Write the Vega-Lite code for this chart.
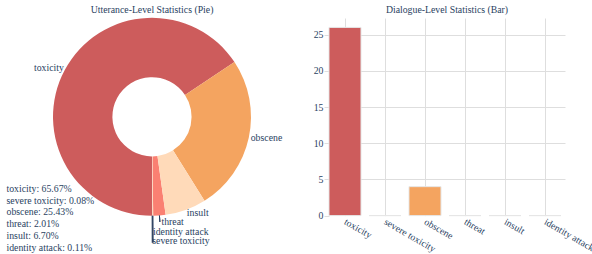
{
  "$schema": "https://vega.github.io/schema/vega-lite/v6.json",
  "padding": {"left": 0, "top": 4, "right": 0, "bottom": 0},
  "datasets": {
    "utter": [
      {"category": "toxicity", "pct": 65.67},
      {"category": "severe toxicity", "pct": 0.08},
      {"category": "obscene", "pct": 25.43},
      {"category": "threat", "pct": 2.01},
      {"category": "insult", "pct": 6.70},
      {"category": "identity attack", "pct": 0.11}
    ],
    "dialog": [
      {"category": "toxicity", "count": 26},
      {"category": "severe toxicity", "count": 0},
      {"category": "obscene", "count": 4},
      {"category": "threat", "count": 0},
      {"category": "insult", "count": 0},
      {"category": "identity attack", "count": 0}
    ]
  },
  "spacing": 9,
  "resolve": {"scale": {"color": "independent"}, "legend": {"color": "independent"}},
  "hconcat": [
    {
      "width": 304,
      "height": 197.6,
      "title": {"text": "Utterance-Level Statistics (Pie)"},
      "data": {"name": "utter"},
      "transform": [
        {"calculate": "datum.category + ': ' + format(datum.pct, '.2f') + '%'", "as": "label"},
        {"stack": "pct", "groupby": [], "sort": [{"field": "pct", "order": "descending"}], "as": ["s0", "s1"]}
      ],
      "layer": [
        {
          "mark": {"type": "arc", "radius": 99, "radius2": 39.6},
          "encoding": {
            "theta": {"field": "s0", "type": "quantitative", "scale": {"domain": [0, 100], "range": [3.14159265, 9.42477796]}},
            "theta2": {"field": "s1"},
            "color": {
              "field": "label", "type": "nominal", "sort": null,
              "scale": {"range": ["#CD5C5C", "#E9967A", "#F4A460", "#FA8072", "#FFDAB9", "#FFE4C4"]},
              "legend": {
                "title": null, "orient": "none", "legendX": 6.7, "legendY": 166,
                "padding": 0, "symbolSize": 0, "symbolStrokeWidth": 0, "symbolOpacity": 0,
                "labelOffset": -10, "labelFontSize": 9.8, "labelColor": "#2a3f5f", "labelFont": "Liberation Serif",
                "labelLimit": 0, "rowPadding": 0.8
              }
            }
          }
        },
        {
          "transform": [{"filter": "datum.category == 'threat'"}],
          "mark": {"type": "arc", "radius": 105.5, "radius2": 99, "padAngle": 1, "fillOpacity": 0, "stroke": "#2a3f5f", "strokeWidth": 1},
          "encoding": {
            "theta": {"field": "s0", "type": "quantitative"},
            "theta2": {"field": "s1"}
          }
        },
        {
          "transform": [{"filter": "datum.category == 'identity attack' || datum.category == 'severe toxicity'"}],
          "mark": {"type": "arc", "radius": 126, "radius2": 99, "padAngle": 1, "fillOpacity": 0, "stroke": "#2a3f5f", "strokeWidth": 1.2},
          "encoding": {
            "theta": {"field": "s0", "type": "quantitative"},
            "theta2": {"field": "s1"}
          }
        },
        {
          "mark": {"type": "text", "radius": 100, "dy": -1.5, "align": "right", "baseline": "middle", "fontSize": 9.8, "color": "#2a3f5f"},
          "encoding": {
            "theta": {"field": "pct", "type": "quantitative", "stack": true},
            "order": {"field": "pct", "sort": "descending"},
            "detail": {"field": "category"},
            "text": {"condition": {"test": "datum.category == 'toxicity'", "field": "category"}, "value": ""}
          }
        },
        {
          "mark": {"type": "text", "radius": 101, "align": "left", "baseline": "middle", "fontSize": 9.8, "color": "#2a3f5f"},
          "encoding": {
            "theta": {"field": "pct", "type": "quantitative", "stack": true},
            "order": {"field": "pct", "sort": "descending"},
            "detail": {"field": "category"},
            "text": {"condition": {"test": "datum.category == 'obscene'", "field": "category"}, "value": ""}
          }
        },
        {
          "mark": {"type": "text", "radius": 102, "align": "left", "baseline": "middle", "fontSize": 9.8, "color": "#2a3f5f"},
          "encoding": {
            "theta": {"field": "pct", "type": "quantitative", "stack": true},
            "order": {"field": "pct", "sort": "descending"},
            "detail": {"field": "category"},
            "text": {"condition": {"test": "datum.category == 'insult'", "field": "category"}, "value": ""}
          }
        },
        {
          "mark": {"type": "text", "radius": 105.6, "dx": 1.5, "align": "left", "baseline": "middle", "fontSize": 9.8, "color": "#2a3f5f"},
          "encoding": {
            "theta": {"field": "pct", "type": "quantitative", "stack": true},
            "order": {"field": "pct", "sort": "descending"},
            "detail": {"field": "category"},
            "text": {"condition": {"test": "datum.category == 'threat'", "field": "category"}, "value": ""}
          }
        },
        {
          "mark": {"type": "text", "radius": 115.3, "align": "left", "baseline": "middle", "fontSize": 9.8, "color": "#2a3f5f"},
          "encoding": {
            "theta": {"field": "pct", "type": "quantitative", "stack": true},
            "order": {"field": "pct", "sort": "descending"},
            "detail": {"field": "category"},
            "text": {"condition": {"test": "datum.category == 'identity attack'", "field": "category"}, "value": ""}
          }
        },
        {
          "mark": {"type": "text", "radius": 123.8, "align": "left", "baseline": "middle", "fontSize": 9.8, "color": "#2a3f5f"},
          "encoding": {
            "theta": {"field": "pct", "type": "quantitative", "stack": true},
            "order": {"field": "pct", "sort": "descending"},
            "detail": {"field": "category"},
            "text": {"condition": {"test": "datum.category == 'severe toxicity'", "field": "category"}, "value": ""}
          }
        }
      ]
    },
    {
      "width": 236,
      "height": 197.6,
      "title": {"text": "Dialogue-Level Statistics (Bar)"},
      "data": {"name": "dialog"},
      "mark": {"type": "bar", "stroke": "#e6e6e6", "strokeWidth": 1},
      "encoding": {
        "x": {
          "field": "category", "type": "nominal", "sort": null, "title": null,
          "scale": {"paddingInner": 0.2, "paddingOuter": 0.05, "align": 0},
          "axis": {"labelAngle": 30, "labelAlign": "left", "labelBaseline": "middle", "bandPosition": 0.5, "ticks": false, "domain": false, "grid": true, "gridColor": "#dedede", "labelPadding": 5, "labelOverlap": false, "labelLimit": 0}
        },
        "y": {
          "field": "count", "type": "quantitative", "title": null,
          "scale": {"domain": [0, 27.3], "nice": false},
          "axis": {"values": [0, 5, 10, 15, 20, 25], "domain": false, "ticks": true, "tickColor": "#dedede", "tickSize": 5, "labelPadding": 1, "gridColor": "#dedede", "gridOpacity": {"condition": {"test": "datum.value === 0", "value": 0}, "value": 1}}
        },
        "color": {
          "field": "category", "type": "nominal", "sort": null,
          "scale": {"range": ["#CD5C5C", "#E9967A", "#F4A460", "#FA8072", "#FFDAB9", "#FFE4C4"]},
          "legend": null
        }
      }
    }
  ],
  "config": {
    "font": "Liberation Serif",
    "view": {"stroke": null},
    "title": {"fontSize": 9.8, "fontWeight": "normal", "color": "#2a3f5f", "font": "Liberation Serif", "offset": 3, "anchor": "middle"},
    "axis": {"labelFont": "Liberation Serif", "labelFontSize": 9.8, "labelColor": "#2a3f5f"},
    "text": {"font": "Liberation Serif"}
  }
}
